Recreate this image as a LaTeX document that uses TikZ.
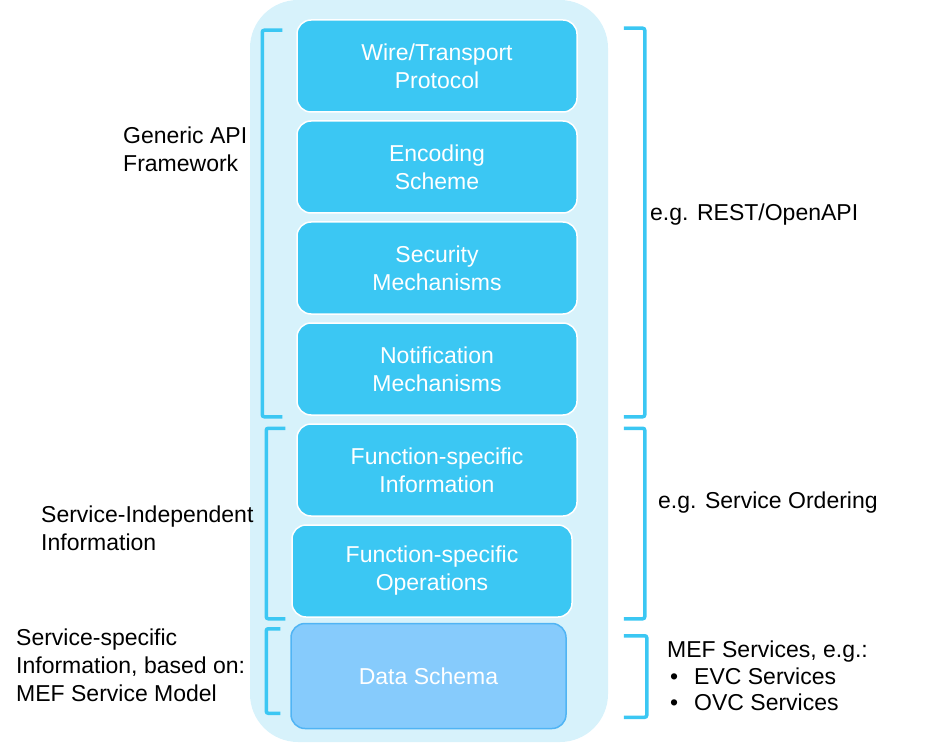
\documentclass[tikz,border=0pt]{standalone}
\usepackage{fontspec}
\setmainfont{Liberation Sans}
\usetikzlibrary{positioning}
\definecolor{layerblue}{HTML}{3BC7F3}
\definecolor{paleblue}{HTML}{D7F2FB}
\definecolor{schemablue}{HTML}{86CBFC}
\definecolor{schemaedge}{HTML}{50B4F4}
\tikzstyle{layer} = [rectangle, draw=white, line width=1.5pt, fill=layerblue, text=white,
    align=center, rounded corners=14pt, minimum width=280pt, minimum height=92pt]
\tikzstyle{brace} = [draw=layerblue, line width=3.5pt, rounded corners=2pt]
\tikzstyle{label} = [align=left, anchor=west, inner sep=0pt]

\begin{document}
\begin{tikzpicture}[font=\fontsize{23}{28}\selectfont, node distance=7.5pt]
    \useasboundingbox (0,0) rectangle (939pt,-743pt);
    % Background
    \fill [paleblue, rounded corners=48pt] (250pt,0pt) rectangle (608pt,-742pt);
    % Place nodes
    \node [layer] (wire) at (437pt,-66pt) {Wire/Transport\\Protocol};
    \node [layer, below=of wire] (enc) {Encoding\\Scheme};
    \node [layer, below=of enc] (sec) {Security\\Mechanisms};
    \node [layer, below=of sec] (notif) {Notification\\Mechanisms};
    \node [layer, below=of notif] (finfo) {Function-specific\\Information};
    \node [layer, below=of finfo, xshift=-5pt] (fops) {Function-specific\\Operations};
    \node [layer, fill=schemablue, draw=schemaedge, minimum width=275pt, minimum height=105pt,
        below=5pt of fops, xshift=-3.5pt] (schema) {Data Schema};
    % Brackets
    \draw [brace] ([xshift=-14pt,yshift=-11pt]wire.north west) -| ([xshift=-34pt,yshift=-1pt]notif.south west) -- ++(20pt,0);
    \draw [brace] ([xshift=46pt,yshift=-9pt]wire.north east) -| ([xshift=67pt,yshift=-1pt]notif.south east) -- ++(-21pt,0);
    \draw [brace] ([xshift=-11pt,yshift=-5pt]finfo.north west) -| ([xshift=-25pt,yshift=-1pt]fops.south west) -- ++(19pt,0);
    \draw [brace] ([xshift=46pt,yshift=-5pt]finfo.north east) -| ([xshift=72pt,yshift=-1pt]fops.south east) -- ++(-21pt,0);
    \draw [brace] ([xshift=-10pt,yshift=-6pt]schema.north west) -| ([xshift=-24pt,yshift=16pt]schema.south west) -- ++(14pt,0);
    \draw [brace] ([xshift=57pt,yshift=-13pt]schema.north east) -| ([xshift=80pt,yshift=12pt]schema.south east) -- ++(-23pt,0);
    % Labels
    \node [label] (generic) at (123pt,-149pt) {Generic API\\Framework};
    \node [label] (indep) at (41pt,-528pt) {Service-Independent\\Information};
    \node [label] (specific) at (16pt,-665pt) {Service-specific\\Information, based on:\\MEF Service Model};
    \node [label] (rest) at (650pt,-215pt) {e.g. REST/OpenAPI};
    \node [label] (ordering) at (658pt,-503pt) {e.g. Service Ordering};
    \node [label, font=\fontsize{23}{26.5}\selectfont] (mef) at (667pt,-676pt) {MEF Services, e.g.:\\
        \hspace*{3pt}\makebox[24pt][l]{\textbullet}EVC Services\\
        \hspace*{3pt}\makebox[24pt][l]{\textbullet}OVC Services};
\end{tikzpicture}
\end{document}
